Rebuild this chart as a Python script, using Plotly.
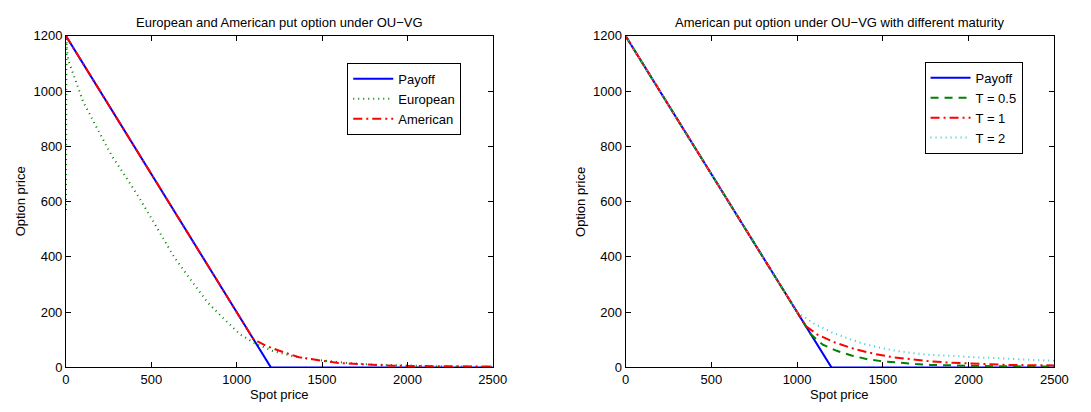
import plotly.graph_objects as go

# ---- data ----
payoff_spot = [0, 1200, 2500]
payoff_val = [1200, 0, 0]

# European / American put, OU-VG model
eu_spot = [0, 3, 6, 15, 40, 100, 175, 270, 350, 425, 500, 635, 750, 830, 920,
           1020, 1116, 1210, 1310, 1400, 1500, 1650, 1800, 2000, 2200, 2500]
eu_val = [570, 1190, 1147, 1110, 1066, 963, 874, 764, 690, 618, 540, 398, 301, 235, 179,
          119, 84, 60, 43, 33, 25, 16, 10, 6, 4, 2]

am_spot = [0, 1100, 1125, 1173, 1250, 1365, 1480, 1596, 1711, 1826, 1922, 2037, 2268, 2500]
am_val = [1200, 100, 93, 78, 60, 37, 26, 16, 12, 8, 6, 5, 4, 3]

# American put for different maturities
t05_spot = [0, 1080, 1150, 1231, 1317, 1413, 1498, 1594, 1690, 1776, 1871, 1967, 2062, 2200, 2350, 2500]
t05_val = [1200, 120, 82, 60, 43, 29, 22, 16, 12, 9, 7, 6, 5, 4, 3, 3]

t1_spot = [0, 1050, 1120, 1221, 1336, 1451, 1556, 1661, 1776, 1890, 1995, 2110, 2225, 2339, 2444, 2500]
t1_val = [1200, 150, 118, 90, 66, 49, 37, 29, 22, 17, 14, 12, 9, 8, 7, 7]

t2_spot = [0, 1000, 1100, 1212, 1288, 1384, 1479, 1575, 1670, 1766, 1862, 1957, 2053, 2148,
           2244, 2339, 2454, 2500]
t2_val = [1200, 200, 158, 124, 107, 86, 72, 60, 52, 46, 43, 39, 36, 34, 30, 28, 25, 24]

x_ticks = [0, 500, 1000, 1500, 2000, 2500]
y_ticks = [0, 200, 400, 600, 800, 1000, 1200]

titles = ["European and American put option under OU\u2212VG",
          "American put option under OU\u2212VG with different maturity"]

# ---- figure ----
W, H = 1091, 412
FONT = "Liberation Sans, Arial, Helvetica, sans-serif"
BLUE, GREEN, RED, CYAN = "#0000ff", "#008000", "#ff0000", "#2ccccc"

fig = go.Figure()

def add(x, y, name, color, dash, xa, ya, legend, width=2):
    fig.add_trace(go.Scatter(x=x, y=y, mode="lines", name=name,
                             line=dict(color=color, dash=dash, width=width),
                             xaxis=xa, yaxis=ya, legend=legend, hoverinfo="skip"))

add(payoff_spot, payoff_val, "Payoff", BLUE, "solid", "x", "y", "legend")
add(eu_spot, eu_val, "European", GREEN, "1px,4px", "x", "y", "legend")
add(am_spot, am_val, "American", RED, "9px,4px,2px,4px", "x", "y", "legend")

add(payoff_spot, payoff_val, "Payoff", BLUE, "solid", "x2", "y2", "legend2")
add(t05_spot, t05_val, "T = 0.5", GREEN, "8px,6px", "x2", "y2", "legend2")
add(t1_spot, t1_val, "T = 1", RED, "9px,4px,2px,4px", "x2", "y2", "legend2")
add(t2_spot, t2_val, "T = 2", CYAN, "1px,4px", "x2", "y2", "legend2")

left_dom = [63 / W, 497 / W]
right_dom = [632 / W, 1068 / W]
y_dom = [(H - 374) / H, (H - 30) / H]

axis_common = dict(showgrid=False, zeroline=False, showline=True, linecolor="black",
                   linewidth=1, mirror="ticks", ticks="inside", ticklen=5,
                   tickcolor="black", tickfont=dict(family=FONT, size=13, color="black"))

legend_common = dict(xanchor="left", yanchor="top", bordercolor="black", borderwidth=1,
                     bgcolor="white", itemwidth=40, tracegroupgap=0,
                     font=dict(family=FONT, size=13, color="black"))

fig.update_layout(
    width=W, height=H, margin=dict(l=0, r=0, t=0, b=0),
    paper_bgcolor="white", plot_bgcolor="white",
    font=dict(family=FONT, size=13, color="black"),
    xaxis=dict(domain=left_dom, range=[0, 2500], tickvals=x_ticks, anchor="y", **axis_common),
    yaxis=dict(domain=y_dom, range=[0, 1200], tickvals=y_ticks, anchor="x", **axis_common),
    xaxis2=dict(domain=right_dom, range=[0, 2500], tickvals=x_ticks, anchor="y2", **axis_common),
    yaxis2=dict(domain=y_dom, range=[0, 1200], tickvals=y_ticks, anchor="x2", **axis_common),
    legend=dict(x=349 / W, y=1 - 58 / H, **legend_common),
    legend2=dict(x=936 / W, y=1 - 57 / H, **legend_common),
)

ann = []
for dom, title in zip([left_dom, right_dom], titles):
    cx = (dom[0] + dom[1]) / 2
    ann.append(dict(text=title, x=cx, y=1 - 16 / H, xref="paper", yref="paper",
                    xanchor="center", yanchor="middle", showarrow=False,
                    font=dict(family=FONT, size=13, color="black")))
    ann.append(dict(text="Spot price", x=cx, y=1 - 402 / H, xref="paper", yref="paper",
                    xanchor="center", yanchor="middle", showarrow=False,
                    font=dict(family=FONT, size=13, color="black")))
for xpix in [17, 586]:
    ann.append(dict(text="Option price", x=xpix / W, y=1 - 202 / H, xref="paper", yref="paper",
                    xanchor="center", yanchor="middle", showarrow=False, textangle=-90,
                    font=dict(family=FONT, size=13, color="black")))
fig.update_layout(annotations=ann)

fig.write_html("out.html")
